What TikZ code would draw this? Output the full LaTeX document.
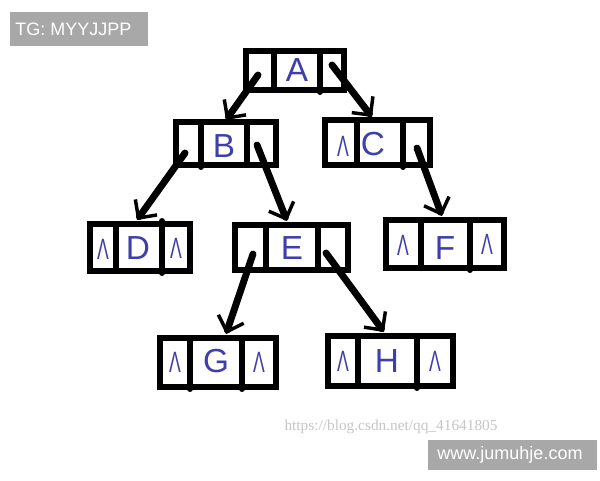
\documentclass[tikz,border=0pt]{standalone}
\usepackage{fontspec}
\setmainfont{Liberation Sans}
\newfontfamily\serifw{Liberation Serif}
\usetikzlibrary{arrows.meta,fit}
\definecolor{pen}{RGB}{62,62,172}
\definecolor{wmgray}{RGB}{168,168,168}
\definecolor{csdn}{RGB}{198,198,198}
\begin{document}
\begin{tikzpicture}[x=0.75pt,y=-0.75pt,
  listbox/.style={draw=black, line width=5pt, inner sep=0pt, outer sep=0pt, fill=white},
  divider/.style={line width=4.5pt, line cap=round},
  letter/.style={text=pen, font=\fontsize{25}{25}\selectfont, inner sep=0pt},
  nullmark/.style={text=pen, font=\fontsize{22}{22}\selectfont, inner sep=0pt},
  ptr/.style={line width=5.2pt, line cap=round, -{Straight Barb[length=10pt,width=20pt,line width=2.6pt]}},
  wmtext/.style={text=white, font=\fontsize{13.5}{13.5}\selectfont, inner sep=0pt},
]
\useasboundingbox (0,0) rectangle (600,480);
\fill[white] (0,0) rectangle (600,480);

% watermarks
\fill[wmgray] (10,12) rectangle (148,46);
\node[wmtext, anchor=west] (tg) at (15,29) {TG: MYYJJPP};
\node[text=csdn, font=\serifw\fontsize{11.5}{11.5}\selectfont, inner sep=0pt] (csdn) at (391,427) {https://blog.csdn.net/qq\_41641805};
\fill[wmgray] (428,440) rectangle (597,470);
\node[wmtext] (jm) at (510,455) {www.jumuhje.com};

% list nodes
\node[listbox, fit={(246,51) (344,90)}] (A) {};
\node[listbox, fit={(176,122) (276,165)}] (B) {};
\node[listbox, fit={(325,120) (430,165)}] (C) {};
\node[listbox, fit={(90,224) (190,271)}] (D) {};
\node[listbox, fit={(235,225) (348,270)}] (E) {};
\node[listbox, fit={(386,220) (504,268)}] (F) {};
\node[listbox, fit={(160,338) (276,387)}] (G) {};
\node[listbox, fit={(328,336) (453,386)}] (H) {};

% dividers
\draw[divider] (274,51) -- (274,90) (320,51) -- (320,92);
\draw[divider] (201,122) -- (201,167) (247,122) -- (247,165);
\draw[divider] (357,120) -- (357,165) (403,120) -- (403,167);
\draw[divider] (116,224) -- (116,271) (162,221) -- (162,273);
\draw[divider] (266,225) -- (266,270) (318,225) -- (318,270);
\draw[divider] (421,220) -- (421,268) (470,220) -- (470,270);
\draw[divider] (190,338) -- (190,389) (242,338) -- (242,389);
\draw[divider] (358,336) -- (358,386) (417,336) -- (417,388);

% data
\node[letter] (tA) at (297,70) {A};
\node[letter] (tB) at (224,146) {B};
\node[letter] (tC) at (373,144) {C};
\node[letter] (tD) at (138,248) {D};
\node[letter] (tE) at (292,248) {E};
\node[letter] (tF) at (445,248) {F};
\node[letter] (tG) at (216,361) {G};
\node[letter] (tH) at (387,361) {H};

% null pointers
\node[nullmark] (nC) at (343,146) {\scalebox{0.6}[1]{Λ}};
\node[nullmark] (nDl) at (103,249) {\scalebox{0.6}[1]{Λ}};
\node[nullmark] (nDr) at (176,248) {\scalebox{0.6}[1]{Λ}};
\node[nullmark] (nFl) at (403,245) {\scalebox{0.6}[1]{Λ}};
\node[nullmark] (nFr) at (487,244) {\scalebox{0.6}[1]{Λ}};
\node[nullmark] (nGl) at (175,362) {\scalebox{0.6}[1]{Λ}};
\node[nullmark] (nGr) at (259,362) {\scalebox{0.6}[1]{Λ}};
\node[nullmark] (nHl) at (343,361) {\scalebox{0.6}[1]{Λ}};
\node[nullmark] (nHr) at (435,361) {\scalebox{0.6}[1]{Λ}};

% pointer coordinates
\coordinate (Al) at (258,75);
\coordinate (Ar) at (332,65);
\coordinate (Bl) at (185,153);
\coordinate (Br) at (257,145);
\coordinate (Cr) at (417,148);
\coordinate (El) at (253,254);
\coordinate (Er) at (326,253);
\coordinate (Bin) at (226,120);
\coordinate (Cin) at (372,117);
\coordinate (Din) at (137,220);
\coordinate (Ein) at (287,221);
\coordinate (Fin) at (442,216);
\coordinate (Gin) at (226,334);
\coordinate (Hin) at (384,332);

\draw[ptr] (Al) -- (Bin);
\draw[ptr] (Ar) -- (Cin);
\draw[ptr] (Bl) -- (Din);
\draw[ptr] (Br) -- (Ein);
\draw[ptr] (Cr) -- (Fin);
\draw[ptr] (El) -- (Gin);
\draw[ptr] (Er) -- (Hin);
\end{tikzpicture}
\end{document}
